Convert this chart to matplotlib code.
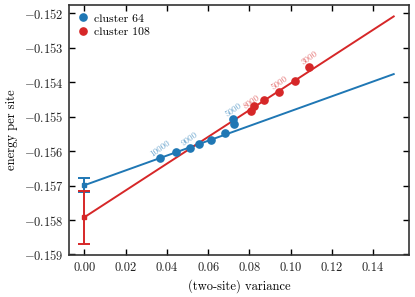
"""Energy per site vs. two-site variance, with linear extrapolation."""

import numpy as np
import matplotlib
matplotlib.use("Agg")
import matplotlib.pyplot as plt

plt.rcParams["font.family"] = "serif"
plt.rcParams["font.serif"] = ["cmr10"]
plt.rcParams["mathtext.fontset"] = "cm"
plt.rcParams["axes.formatter.use_mathtext"] = True
plt.rcParams["font.size"] = 9

# cluster 64
var_64 = [0.0369, 0.0446, 0.0512, 0.0556, 0.0613, 0.0681, 0.0723, 0.0726]
energy_64 = [-0.15621, -0.15603, -0.15590, -0.15580, -0.15567, -0.15548, -0.15506, -0.15521]
labels_64 = {0: "10000", 2: "9000", 6: "5000"}
fit_64 = (-0.15699, 0.02153)  # intercept, slope
err_64 = 0.00020

# cluster 108
var_108 = [0.0810, 0.0823, 0.0872, 0.0945, 0.1021, 0.1091]
energy_108 = [-0.15483, -0.15470, -0.15452, -0.15428, -0.15397, -0.15355]
labels_108 = {0: "8000", 3: "5000", 5: "3000"}
fit_108 = (-0.15792, 0.0389)
err_108 = 0.00077

fit_x_max = 0.15

BLUE = "#1f77b4"
RED = "#d62728"

fig = plt.figure(figsize=(4.15, 2.97), dpi=100)
ax = fig.add_axes([0.166, 0.141, 0.82, 0.842])

for xs, ys, labels, fit, err, color, name in [
    (var_64, energy_64, labels_64, fit_64, err_64, BLUE, "cluster 64"),
    (var_108, energy_108, labels_108, fit_108, err_108, RED, "cluster 108"),
]:
    fx = np.array([0.0, fit_x_max])
    ax.plot(fx, fit[0] + fit[1] * fx, color=color, lw=1.4, zorder=2)
    ax.errorbar([0.0], [fit[0]], yerr=[err], color=color, marker="s", ms=2.5,
                capsize=4, elinewidth=1.4, capthick=1.4, zorder=3)
    ax.plot(xs, ys, "o", color=color, ms=5.2, label=name, zorder=4)
    for i, txt in labels.items():
        ax.annotate(txt, (xs[i], ys[i]), xytext=(0, 0), textcoords="offset points",
                    ha="center", va="bottom", rotation=35, fontsize=6.5,
                    color=color, alpha=0.65)

ax.set_xticks([0.0, 0.02, 0.04, 0.06, 0.08, 0.10, 0.12, 0.14])
ax.set_xticklabels(["0.00", "0.02", "0.04", "0.06", "0.08", "0.10", "0.12", "0.14"])
ax.set_yticks([-0.159, -0.158, -0.157, -0.156, -0.155, -0.154, -0.153, -0.152])
ax.tick_params(direction="in", top=True, right=True, length=4, width=1.0,
               labelcolor="#222222")
ax.tick_params(axis="x", pad=5)
for s in ax.spines.values():
    s.set_linewidth(1.2)
    s.set_color("#333333")

ax.set_xlabel("(two-site) variance", labelpad=4)
ax.set_ylabel("energy per site", labelpad=4)
ax.legend(loc="upper left", frameon=False, handletextpad=0.4, handlelength=1.0,
          borderaxespad=0.3, labelspacing=0.3, fontsize=8.5)

fig.savefig("out.png", dpi=100)
